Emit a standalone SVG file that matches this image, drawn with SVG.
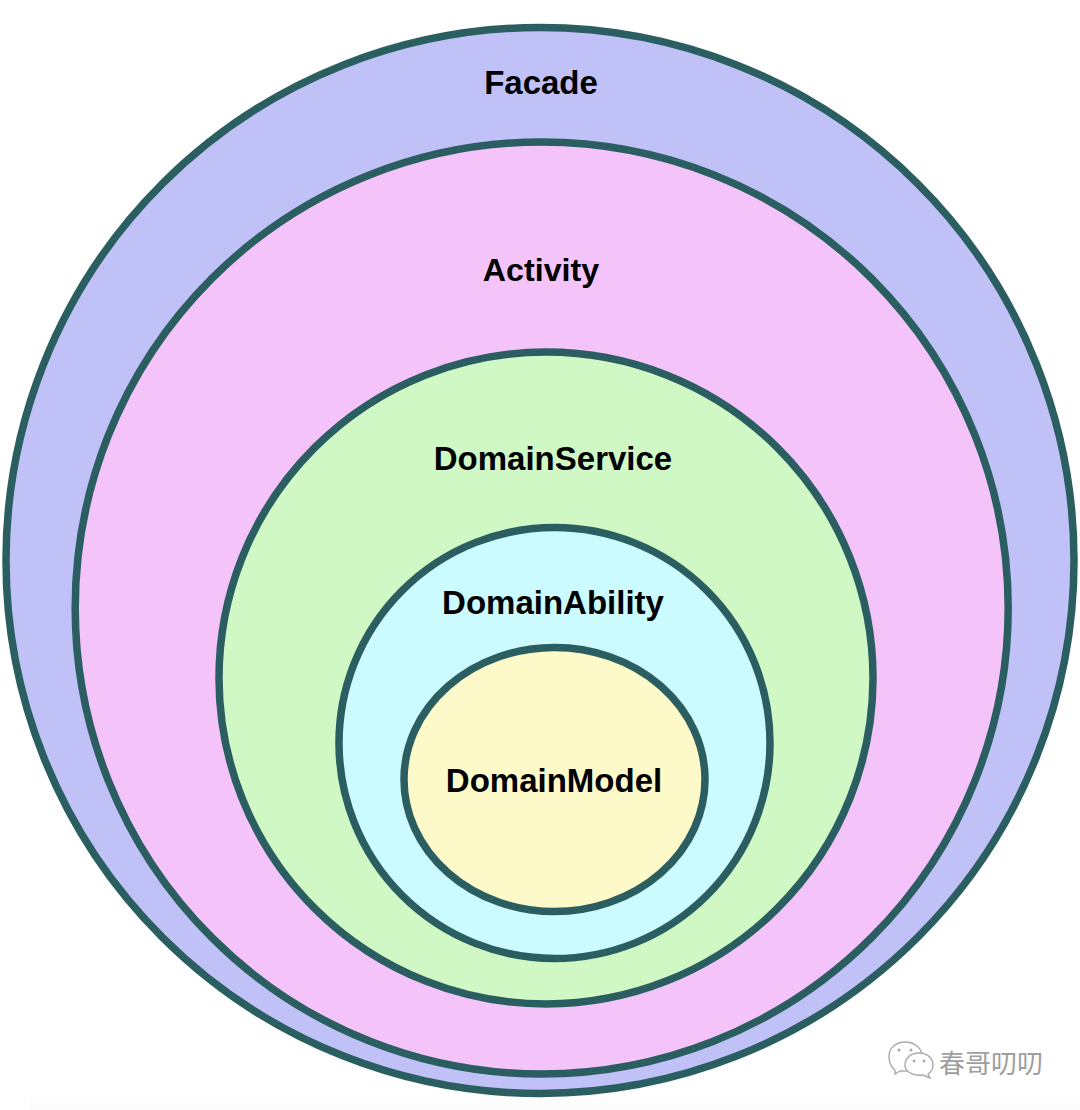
<svg xmlns="http://www.w3.org/2000/svg" width="1080" height="1110" viewBox="0 0 1080 1110">
<style>
.r{stroke:#2a5e60;stroke-width:7.5}
.t{font-family:"Liberation Sans",Arial,sans-serif;font-weight:700;font-size:33px;fill:#000;text-anchor:middle}
.w{font-family:"Noto Sans CJK SC",sans-serif;font-size:26px;fill:#9e9e9e}
.b{fill:#fff;stroke:#ababab;stroke-width:1.4}
.d{fill:#ababab}
</style>
<rect width="1080" height="1110" fill="#fff"/>
<rect x="30" y="1098" width="1050" height="12" fill="#fcfcfc"/>
<g id="facade"><ellipse class="r" cx="540" cy="560.5" rx="534" ry="533" fill="#bfc1f7"/><text class="t" x="541" y="94">Facade</text></g>
<g id="activity"><ellipse class="r" cx="541.7" cy="608" rx="466.5" ry="466" fill="#f4c3fa"/><text class="t" x="541" y="281" style="font-size:32.2px">Activity</text></g>
<g id="domainservice"><ellipse class="r" cx="546" cy="678" rx="327" ry="326" fill="#cff8c5"/><text class="t" x="553" y="470">DomainService</text></g>
<g id="domainability"><ellipse class="r" cx="554.5" cy="743" rx="215.5" ry="215.5" fill="#cbfbff"/><text class="t" x="553" y="614">DomainAbility</text></g>
<g id="domainmodel"><ellipse class="r" cx="554.5" cy="779.5" rx="150.5" ry="132" fill="#fef9c8"/><text class="t" x="554" y="792">DomainModel</text></g>
<g id="watermark">
<path class="b" d="M905 1042c9 0 17 6 17 14 0 8-8 15-17 15l-5 0-5 3 0-4c-4-3-6-8-6-14 0-8 7-14 16-14z"/>
<circle class="d" cx="899" cy="1050" r="1.5"/><circle class="d" cx="911" cy="1050" r="1.5"/>
<path class="b" d="M919 1053c8 0 14 5 14 12 0 4-2 7-5 9l2 4-7-3c-8 1-18-2-18-10 0-7 6-12 14-12z"/>
<circle class="d" cx="914" cy="1061" r="1.5"/><circle class="d" cx="924" cy="1061" r="1.5"/>
<text class="w" x="939" y="1073">春哥叨叨</text>
</g>
</svg>
